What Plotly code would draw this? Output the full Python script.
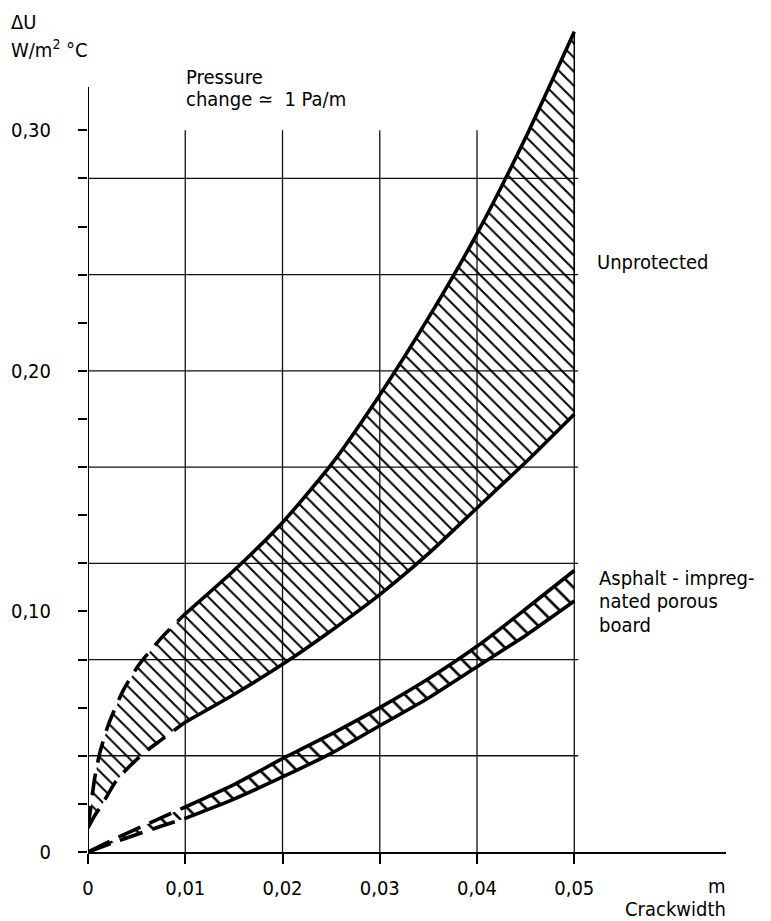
import plotly.graph_objects as go

# ---------------- data ----------------
# Unprotected band
unp_up_dash_x = [0.0, 0.0007, 0.0012, 0.0021, 0.0036, 0.0052, 0.0075, 0.010]
unp_up_dash_y = [0.010, 0.031, 0.041, 0.053, 0.067, 0.0776, 0.0888, 0.099]
unp_up_x = [0.010, 0.015, 0.020, 0.025, 0.030, 0.035, 0.040, 0.045, 0.050]
unp_up_y = [0.099, 0.117, 0.137, 0.161, 0.190, 0.222, 0.257, 0.297, 0.341]
unp_lo_dash_x = [0.0, 0.0006, 0.0015, 0.0028, 0.0040, 0.0057, 0.0075, 0.010]
unp_lo_dash_y = [0.010, 0.0145, 0.0201, 0.0290, 0.0345, 0.0410, 0.0465, 0.054]
unp_lo_x = [0.010, 0.015, 0.020, 0.025, 0.030, 0.035, 0.040, 0.045, 0.050]
unp_lo_y = [0.054, 0.0655, 0.078, 0.092, 0.107, 0.124, 0.143, 0.162, 0.182]

# Asphalt-impregnated porous board band
asp_dash_x = [0.0, 0.0025, 0.005, 0.0075, 0.010]
asp_up_dash_y = [0.0, 0.0050, 0.0096, 0.0142, 0.0187]
asp_lo_dash_y = [0.0, 0.0037, 0.0073, 0.0107, 0.0140]
asp_x = [0.010, 0.015, 0.020, 0.025, 0.030, 0.035, 0.040, 0.045, 0.050]
asp_up_y = [0.0187, 0.028, 0.0388, 0.049, 0.060, 0.072, 0.0855, 0.101, 0.117]
asp_lo_y = [0.0140, 0.022, 0.0312, 0.041, 0.0525, 0.064, 0.077, 0.090, 0.1043]

# axes
x_ticks = [0.0, 0.01, 0.02, 0.03, 0.04, 0.05]
x_ticklabels = ["0", "0,01", "0,02", "0,03", "0,04", "0,05"]
y_ticks = [0.0, 0.10, 0.20, 0.30]
y_ticklabels = ["0", "0,10", "0,20", "0,30"]
y_minor_ticks = [0.02, 0.04, 0.06, 0.08, 0.12, 0.14, 0.16, 0.18, 0.22, 0.24, 0.26, 0.28]
grid_x = [0.01, 0.02, 0.03, 0.04, 0.05]
grid_y = [0.04, 0.08, 0.12, 0.16, 0.20, 0.24, 0.28]
grid_top = 0.30
yaxis_top = 0.318

FONT = "DejaVu Sans Condensed, Liberation Sans Narrow, DejaVu Sans, sans-serif"
FS = 20
OFF = 8                     # page body margin
W, H = 771 - OFF, 921 - OFF
ML, MR, MT, MB = 80, 45, 2, 69
XR = [0, 0.0656]
YR = [0, 0.35]

fig = go.Figure()


def band(up_dx, up_dy, up_x, up_y, lo_dx, lo_dy, lo_x, lo_y, size, solidity):
    px = list(up_dx) + list(up_x[1:]) + list(reversed(lo_x)) + list(reversed(lo_dx[:-1]))
    py = list(up_dy) + list(up_y[1:]) + list(reversed(lo_y)) + list(reversed(lo_dy[:-1]))
    fig.add_trace(go.Scatter(
        x=px, y=py, mode="lines", fill="toself",
        line=dict(width=0, color="rgba(0,0,0,0)"),
        fillcolor="rgba(0,0,0,0)",
        fillpattern=dict(shape="\\", size=size, solidity=solidity, fgcolor="black", fgopacity=1,
                         bgcolor="rgba(0,0,0,0)"),
        hoverinfo="skip", showlegend=False))


band(unp_up_dash_x, unp_up_dash_y, unp_up_x, unp_up_y,
     unp_lo_dash_x, unp_lo_dash_y, unp_lo_x, unp_lo_y, 10, 0.2)
band(asp_dash_x, asp_up_dash_y, asp_x, asp_up_y,
     asp_dash_x, asp_lo_dash_y, asp_x, asp_lo_y, 13, 0.2)

# right edge of the unprotected band
fig.add_trace(go.Scatter(x=[unp_up_x[-1], unp_lo_x[-1]], y=[unp_up_y[-1], unp_lo_y[-1]],
                         mode="lines", line=dict(color="black", width=1.5),
                         hoverinfo="skip", showlegend=False))

for xs, ys in [(unp_up_x, unp_up_y), (unp_lo_x, unp_lo_y), (asp_x, asp_up_y), (asp_x, asp_lo_y)]:
    fig.add_trace(go.Scatter(x=xs, y=ys, mode="lines",
                             line=dict(color="black", width=3.6, shape="spline", smoothing=0.6),
                             hoverinfo="skip", showlegend=False))
for xs, ys, dash in [(unp_up_dash_x, unp_up_dash_y, "22px,11px"), (unp_lo_dash_x, unp_lo_dash_y, "22px,11px"),
                     (asp_dash_x, asp_up_dash_y, "24px,10px"), (asp_dash_x, asp_lo_dash_y, "24px,10px")]:
    fig.add_trace(go.Scatter(x=xs, y=ys, mode="lines",
                             line=dict(color="black", width=3.6, dash=dash, shape="spline", smoothing=0.6),
                             hoverinfo="skip", showlegend=False))

shapes = []
for gx in grid_x:
    shapes.append(dict(type="line", xref="x", yref="y", x0=gx, x1=gx, y0=0, y1=grid_top,
                       line=dict(color="#111", width=1.3), layer="below"))
for gy in grid_y:
    shapes.append(dict(type="line", xref="x", yref="y", x0=-0.0009, x1=0.0504, y0=gy, y1=gy,
                       line=dict(color="#111", width=1.3), layer="below"))
shapes.append(dict(type="line", xref="x", yref="y", x0=0, x1=0, y0=0, y1=yaxis_top,
                   line=dict(color="black", width=2)))


def px2paper(px, py):
    fx, fy = px - OFF, py - OFF
    return (fx - ML) / (W - ML - MR), (H - MB - fy) / (H - MT - MB)


annots = []


def text(s, px, py, anchor="left", size=FS):
    x, y = px2paper(px, py)
    annots.append(dict(text=s, x=x, y=y, xref="paper", yref="paper", xanchor=anchor,
                       yanchor="middle", showarrow=False, font=dict(family=FONT, size=size, color="black")))


text("\u0394U", 9, 22)
text("W/m<sup>2</sup> \u00b0C", 9, 49)
text("Pressure", 184, 77)
text("change \u2243  1 Pa/m", 184, 99)
text("Unprotected", 595, 262)
text("Asphalt - impreg-", 597, 578)
text("nated porous", 597, 601)
text("board", 597, 625)
text("m", 728, 886, anchor="right")
text("Crackwidth", 728, 909, anchor="right")

fig.update_layout(
    width=W, height=H, margin=dict(l=ML, r=MR, t=MT, b=MB),
    paper_bgcolor="white", plot_bgcolor="white",
    shapes=shapes, annotations=annots, showlegend=False,
    font=dict(family=FONT, size=FS, color="black"),
    xaxis=dict(range=XR, tickvals=x_ticks, ticktext=x_ticklabels, ticks="outside", ticklen=10,
               tickwidth=1.5, tickcolor="black", showline=True, linecolor="black", linewidth=2,
               showgrid=False, zeroline=False, ticklabelstandoff=7, fixedrange=True,
               tickfont=dict(family=FONT, size=FS)),
    yaxis=dict(range=YR, tickvals=y_ticks, ticktext=y_ticklabels, ticks="outside", ticklen=9,
               tickwidth=1.5, tickcolor="black", showline=False, showgrid=False, zeroline=False,
               ticklabelstandoff=23, fixedrange=True, tickfont=dict(family=FONT, size=FS),
               minor=dict(tickmode="array", tickvals=y_minor_ticks, ticks="outside", ticklen=9,
                          tickwidth=1.5, tickcolor="black", showgrid=False)),
)

fig.write_html("out.html")
